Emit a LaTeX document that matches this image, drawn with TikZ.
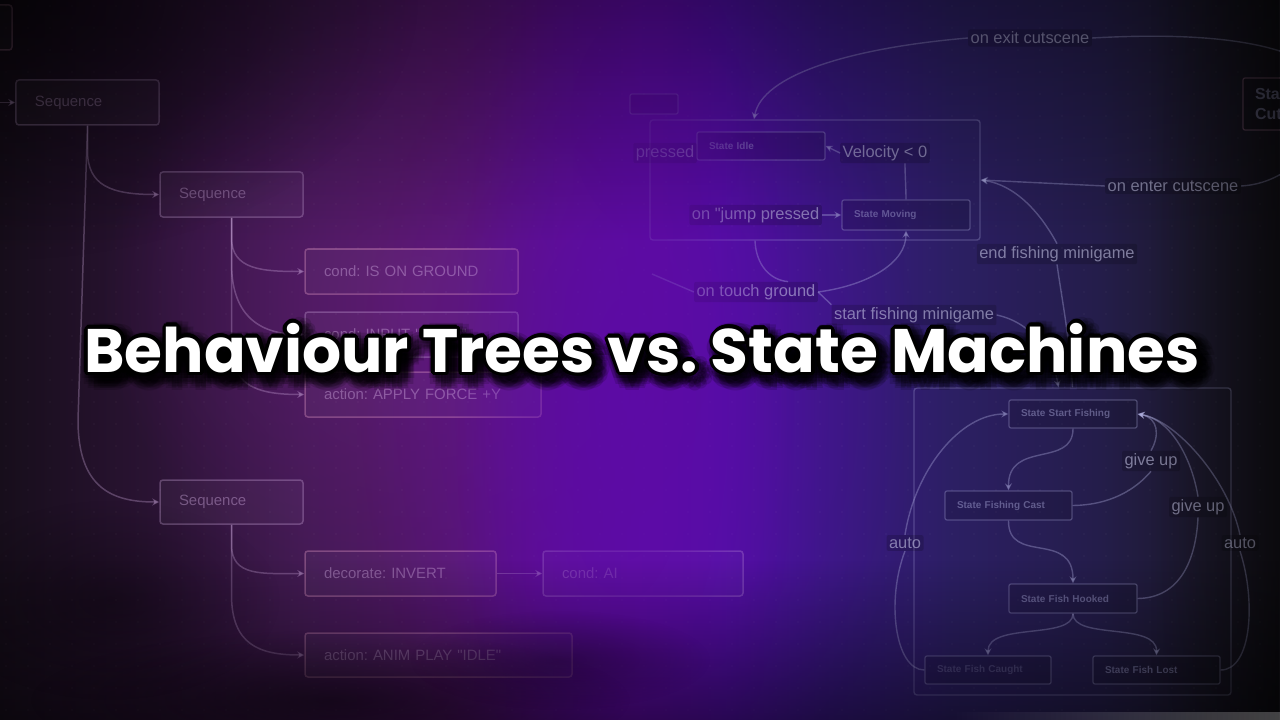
\documentclass[tikz,border=0pt]{standalone}
\usepackage{fontspec}
\usetikzlibrary{arrows.meta,fadings}
\newfontfamily\uifont{Liberation Sans}
\newfontfamily\titlefont{Poppins}
\frenchspacing

% background palette, left to right
\definecolor{bgA}{HTML}{170E1B}
\definecolor{bgB}{HTML}{2A1333}
\definecolor{bgC}{HTML}{421A52}
\definecolor{bgD}{HTML}{56166E}
\definecolor{bgE}{HTML}{5E0F92}
\definecolor{bgF}{HTML}{600CA6}
\definecolor{bgG}{HTML}{5010A8}
\definecolor{bgH}{HTML}{3A1886}
\definecolor{bgI}{HTML}{2C1F64}
\definecolor{bgJ}{HTML}{241D4A}
\definecolor{bgK}{HTML}{1C192C}
\definecolor{bgL}{HTML}{141218}
\definecolor{washviolet}{HTML}{5C0BA6}
\definecolor{haze}{HTML}{621C78}
% diagram inks
\definecolor{tcol}{HTML}{D8B4E8}
\definecolor{tred}{HTML}{E8A0C8}
\definecolor{scol}{HTML}{B8B8E8}
\definecolor{slab}{HTML}{D0D0F0}

\tikzfading[name=fadedown, top color=transparent!0, bottom color=transparent!100]
\tikzfading[name=fadeup, top color=transparent!100, bottom color=transparent!0]
\tikzfading[name=radglow, inner color=transparent!0, outer color=transparent!100]
\tikzfading[name=fadeleft, left color=transparent!100, right color=transparent!0]

\tikzset{
  tline/.style={draw=tcol, line width=1.5bp, opacity=0.3},
  tarrow/.style={tline, -{Stealth[length=7bp,width=7bp]}},
  tbox/.style={draw=tcol, draw opacity=0.3, line width=1.5bp, rounded corners=3bp,
    fill=white, fill opacity=0.03, text=tcol, text opacity=0.4,
    font=\uifont\fontsize{15}{17}\selectfont, inner xsep=19bp, inner ysep=0bp,
    align=left, minimum height=45bp},
  tboxred/.style={tbox, draw=tred, draw opacity=0.34},
  sline/.style={draw=scol, line width=1.4bp, opacity=0.34},
  sarrow/.style={sline, -{Stealth[length=7bp,width=7bp]}},
  sbox/.style={draw=scol, draw opacity=0.3, line width=1.3bp, rounded corners=2bp,
    fill=black, fill opacity=0.12, text=scol, text opacity=0.42,
    font=\uifont\bfseries\fontsize{10}{12}\selectfont, inner xsep=12bp, inner ysep=0bp,
    align=left},
  sgroup/.style={draw=scol, draw opacity=0.28, line width=1.4bp, rounded corners=3bp},
  slabel/.style={fill=black, fill opacity=0.16, text=slab, text opacity=0.55,
    font=\uifont\fontsize{16.5}{19}\selectfont, inner sep=2.5bp, rounded corners=2bp},
}

\newcommand\ttltext{\resizebox{1115bp}{!}{\titlefont\bfseries Behaviour Trees vs. State Machines}}

\begin{document}
\begin{tikzpicture}[x=1bp,y=-1bp]
\useasboundingbox (0,0) rectangle (1280,720);
\clip (0,0) rectangle (1280,720);

% ---- background ----
\foreach \xa/\xb/\ca/\cb in {0/150/bgA/bgB,150/300/bgB/bgC,300/450/bgC/bgD,450/560/bgD/bgE,
  560/640/bgE/bgF,640/720/bgF/bgG,720/820/bgG/bgH,820/950/bgH/bgI,950/1100/bgI/bgJ,
  1100/1200/bgJ/bgK,1200/1280/bgK/bgL}
  \shade[left color=\ca, right color=\cb] (\xa-0.6,-1) rectangle (\xb+0.6,721);
\fill[haze, path fading=radglow, fill opacity=0.7] (420,300) ellipse [x radius=320, y radius=300];
\fill[washviolet, path fading=radglow, fill opacity=0.6] (640,400) ellipse [x radius=280, y radius=440];

% faint dot grid
\foreach \i in {0,...,58}
  \foreach \j in {0,...,32}
    \fill[white, opacity=0.05] (\i*22+6,\j*22+6) circle (0.9);

% ---- behaviour tree ----
\node[tboxred, text width=66bp] (prev) at (-40,27.5) {};
\node[tbox, text width=105bp] (seq1) at (87.5,102.5) {Sequence};
\node[tbox, text width=105bp] (seq2) at (231.5,194.5) {Sequence};
\node[tboxred, text width=175bp] (condA) at (411.5,271.5) {cond: IS ON GROUND};
\node[tbox, text width=175bp] (condB) at (411.5,334.5) {cond: INPUT "JUMP"};
\node[tboxred, text width=198bp] (actA) at (423,394.5) {action: APPLY FORCE +Y};
\node[tbox, text width=105bp, minimum height=44bp] (seq3) at (231.5,502) {Sequence};
\node[tboxred, text width=153bp] (decA) at (400.5,573.5) {decorate: INVERT};
\node[tbox, text width=162bp] (condC) at (643,573.5) {cond: AI};
\node[tboxred, text width=229bp, minimum height=44bp] (actB) at (438.5,655) {action: ANIM PLAY "IDLE"};

\coordinate (in0) at (-6,102.5);
\draw[tarrow] (in0) -- (seq1.west);
\draw[tarrow] (seq1.south) -- ++(0,25) .. controls +(0,35) and +(-48,0) .. (seq2.west);
\draw[tarrow] (seq1.south) -- (78,420) .. controls (78,488) and (112,502) .. (seq3.west);
\draw[tarrow] (seq2.south) -- ++(0,20) .. controls +(0,32) and +(-42,0) .. (condA.west);
\draw[tarrow] (seq2.south) -- ++(0,45) .. controls +(0,50) and +(-48,0) .. (condB.west);
\draw[tarrow] (seq2.south) -- (231.5,345) .. controls (231.5,385) and (255,394.5) .. (actA.west);
\draw[tarrow] (seq3.south) -- ++(0,20) .. controls +(0,32) and +(-42,0) .. (decA.west);
\draw[tarrow] (seq3.south) -- ++(0,70) .. controls +(0,50) and +(-45,0) .. (actB.west);
\draw[tarrow] (decA.east) -- (condC.west);

% ---- state machine ----
\node[sgroup, minimum width=330bp, minimum height=120bp] (grp1) at (815,180) {};
\node[sgroup, minimum width=317bp, minimum height=307bp] (grp2) at (1072.5,541.5) {};
\node[sbox, text width=24bp, minimum height=20bp] (small) at (654,104) {};
\node[sbox, text width=104bp, minimum height=28bp] (idle) at (761,146) {State Idle};
\node[sbox, text width=104bp, minimum height=30bp] (moving) at (906,215) {State Moving};
\node[sbox, draw=tred, text width=70bp, minimum height=52bp,
  font=\uifont\bfseries\fontsize{16}{21}\selectfont] (cutscene) at (1290,104) {State\\Cutscene};
\node[sbox, text width=104bp, minimum height=28bp] (start) at (1073,414) {State Start Fishing};
\node[sbox, text width=103bp, minimum height=29bp] (cast) at (1008.5,505.5) {State Fishing Cast};
\node[sbox, text width=104bp, minimum height=29bp] (hooked) at (1073,598.5) {State Fish Hooked};
\node[sbox, text width=102bp, minimum height=28bp, text opacity=0.25] (caught) at (988,670) {State Fish Caught};
\node[sbox, text width=103bp, minimum height=28bp] (lost) at (1156.5,670) {State Fish Lost};

\node[slabel] (lexit) at (1030,38) {on exit cutscene};
\node[slabel] (lvel) at (885,153) {Velocity < 0};
\node[slabel, anchor=east] (ljump) at (822,215) {on "jump pressed};
\node[slabel, anchor=east] (lpressed) at (697,153) {pressed};
\node[slabel] (ltouch) at (756,292) {on touch ground};
\node[slabel] (lstartfm) at (914,315) {start fishing minigame};
\node[slabel] (lenter) at (1173,186) {on enter cutscene};
\node[slabel] (lend) at (1057,254) {end fishing minigame};
\node[slabel] (lgive1) at (1151,461) {give up};
\node[slabel] (lgive2) at (1198,507) {give up};
\node[slabel] (lauto1) at (905,543) {auto};
\node[slabel] (lauto2) at (1240,543) {auto};

\coordinate (tgL) at (652,274);
\draw[sline] ([xshift=-10bp]cutscene.north east) .. controls (1290,40) and (1200,32) .. (lexit.east);
\draw[sarrow] (lexit.west) .. controls (850,48) and (762,75) .. ([xshift=-61bp]grp1.north);
\draw[sarrow] (lenter.west) -- (grp1.east);
\draw[sline] (lenter.east) .. controls (1275,184) and (1300,165) .. ([xshift=-10bp]cutscene.south east);
\draw[sarrow] (lend.north) .. controls (1040,212) and (1015,185) .. (grp1.east);
\draw[sline] (lend.south) .. controls (1062,300) and (1070,340) .. (grp2.north);
\draw[sarrow] (lstartfm.east) .. controls (1030,322) and (1052,350) .. ([xshift=-14bp]grp2.north);
\draw[sline] ([xshift=-60bp]grp1.south) .. controls (756,265) and (770,280) .. ([xshift=-30bp]ltouch.north east);
\draw[sarrow] (ltouch.east) .. controls (870,285) and (906,262) .. (moving.south);
\draw[sline] (ltouch.east) -- (lstartfm.north west);
\draw[sline] (tgL) -- (ltouch.west);
\draw[sline] (moving.north) .. controls (906,188) and (905,175) .. ([xshift=20bp]lvel.south);
\draw[sarrow] (lvel.west) -- (idle.east);
\draw[sarrow] (ljump.east) -- (moving.west);

\draw[sarrow] (start.south) .. controls (1073,468) and (1008,440) .. (cast.north);
\draw[sarrow] (cast.south) .. controls (1008,565) and (1073,530) .. (hooked.north);
\draw[sarrow] (hooked.south) .. controls (1073,640) and (988,622) .. (caught.north);
\draw[sarrow] (hooked.south) .. controls (1073,640) and (1157,622) .. (lost.north);
\draw[sline] (cast.east) .. controls (1110,505) and (1135,490) .. (lgive1.south);
\draw[sarrow] (lgive1.north) .. controls (1160,435) and (1158,418) .. (start.east);
\draw[sline] (hooked.east) .. controls (1180,598) and (1196,560) .. (lgive2.south);
\draw[sarrow] (lgive2.north) .. controls (1192,460) and (1172,420) .. (start.east);
\draw[sline] (caught.west) .. controls (895,670) and (886,600) .. (lauto1.south);
\draw[sarrow] (lauto1.north) .. controls (915,470) and (960,414) .. (start.west);
\draw[sline] (lost.east) .. controls (1252,670) and (1256,600) .. (lauto2.south);
\draw[sarrow] (lauto2.north) .. controls (1228,478) and (1175,420) .. (start.east);

% ---- atmosphere over the diagrams ----
\fill[washviolet, path fading=radglow, fill opacity=0.85] (625,400) ellipse [x radius=170, y radius=480];
\fill[washviolet, path fading=radglow, fill opacity=0.5] (660,120) ellipse [x radius=90, y radius=120];
\fill[black, path fading=fadedown, fill opacity=0.4] (-1,-1) rectangle (1281,240);
\fill[black, path fading=radglow, fill opacity=0.55] (0,0) ellipse [x radius=420, y radius=260];
\fill[black, path fading=fadeup, fill opacity=0.5] (-1,560) rectangle (1281,721);
\fill[black, path fading=radglow, fill opacity=0.45] (330,700) ellipse [x radius=300, y radius=70];
\fill[black, path fading=radglow, fill opacity=0.35] (110,600) ellipse [x radius=170, y radius=100];
\fill[black, path fading=radglow, fill opacity=0.3] (560,660) ellipse [x radius=150, y radius=50];
\fill[black, path fading=fadeleft, fill opacity=0.45] (1150,-1) rectangle (1281,721);
\fill[white, path fading=fadeleft, fill opacity=0.25] (950,712) rectangle (1281,721);

% ---- title ----
\foreach \r in {12,9,6}
  \foreach \a in {0,30,...,330}
    \path (648,354) ++(\a:\r) node[text=black, text opacity=0.14, inner sep=0] (sh-\r-\a) {\ttltext};
\foreach \a in {0,20,...,340}
  \path (642,348) ++(\a:3.6) node[text=black, inner sep=0] (ol-\a) {\ttltext};
\node[text=white, inner sep=0] (title) at (642,348) {\ttltext};
\end{tikzpicture}
\end{document}
